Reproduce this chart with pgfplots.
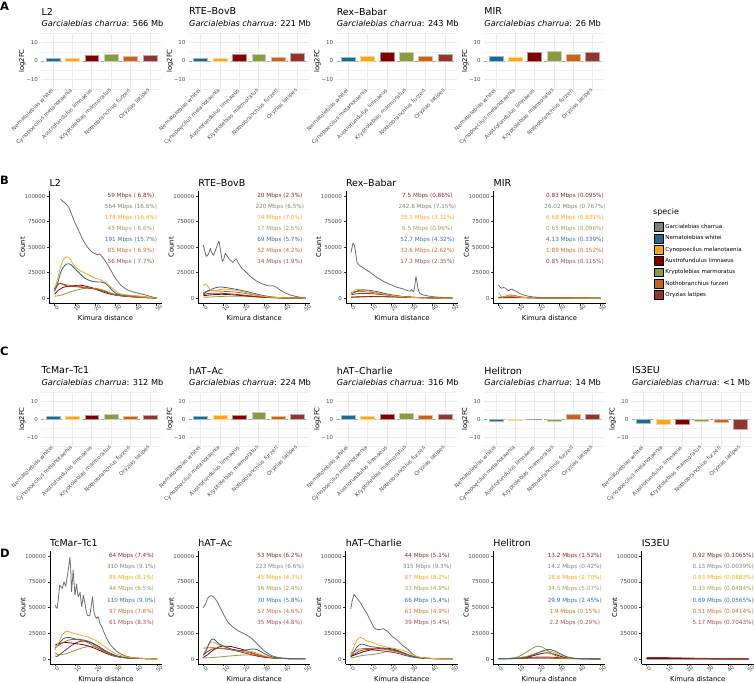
\documentclass[border=0pt]{standalone}
\usepackage{fontspec}
\setmainfont{DejaVu Sans}
\usepackage{pgfplots}
\pgfplotsset{compat=1.18}
\definecolor{gcol}{HTML}{6E6E6E}
\definecolor{gkey}{HTML}{808080}
\definecolor{ncol}{HTML}{1F6890}
\definecolor{ccol}{HTML}{FFA514}
\definecolor{acol}{HTML}{800000}
\definecolor{kcol}{HTML}{8A9A45}
\definecolor{fcol}{HTML}{C6631F}
\definecolor{ocol}{HTML}{8F3631}
\definecolor{tickgray}{HTML}{4D4D4D}
\definecolor{gridgray}{HTML}{EBEBEB}
\newcommand{\ftitle}{\fontsize{9.5}{11}\selectfont}
\newcommand{\fsub}{\fontsize{8.2}{9.5}\selectfont}
\newcommand{\ftick}{\fontsize{5.5}{6.5}\selectfont}
\newcommand{\fspec}{\fontsize{5.5}{6.5}\selectfont}
\newcommand{\fann}{\fontsize{5.7}{6.7}\selectfont}
\newcommand{\faxlab}{\fontsize{6.8}{8}\selectfont}
\newcommand{\fleg}{\fontsize{5.5}{6.5}\selectfont}
\newcommand{\fletter}{\fontsize{11.5}{13}\selectfont\bfseries}
\pgfplotsset{
 barax/.style={scale only axis, width=120pt, clip=false,
   xmin=0.4,xmax=6.6,ymin=-15,ymax=15,
   axis line style={draw=none}, major tick length=0pt, minor tick length=0pt,
   xtick={1,2,3,4,5,6},
   xticklabels={Nematolebias whitei,Cynopoecilus melanotaenia,Austrofundulus limnaeus,Kryptolebias marmoratus,Nothobranchius furzeri,Oryzias latipes},
   xticklabel style={rotate=45, anchor=east, font=\fspec, text=tickgray, inner sep=1pt},
   ytick={-10,0,10}, yticklabels={−10,0,10},
   minor ytick={-15,-5,5,15},
   yticklabel style={font=\ftick, text=tickgray},
   xmajorgrids, ymajorgrids, yminorgrids,
   major grid style={gridgray, line width=0.5pt},
   minor grid style={gridgray!70!white, line width=0.3pt},
   extra y ticks={0}, extra y tick labels={},
   extra y tick style={major grid style={gray!70, dashed, line width=0.45pt}},
   ylabel={log2FC},
   every axis y label/.style={at={(axis description cs:-0.159,0.5)}, rotate=90, anchor=center, font=\faxlab},
 },
 lineax/.style={scale only axis, width=112.2pt, clip=false,
   xmin=-2.5,xmax=52.5,ymin=-5000,ymax=105000,
   axis x line*=bottom, axis y line*=left, axis line style={-, black, line width=0.5pt},
   xtick={0,10,20,30,40,50}, xticklabels={0,10,20,30,40,50},
   ytick={0,25000,50000,75000,100000}, yticklabels={0,25000,50000,75000,100000},
   tick align=outside, major tick length=2.2pt, tick style={black!80, line width=0.5pt},
   xticklabel style={rotate=45, anchor=north, font=\ftick, text=tickgray, inner sep=1pt},
   yticklabel style={font=\ftick, text=tickgray, inner sep=1.5pt},
   scaled ticks=false,
   xlabel={Kimura distance}, ylabel={Count},
   every axis x label/.style={at={(axis description cs:0.5,0)}, anchor=center, yshift=-14.5pt, font=\faxlab},
   every axis y label/.style={at={(axis description cs:-0.241,0.5)}, rotate=90, anchor=center, font=\faxlab},
   every axis plot/.append style={line width=0.8pt, mark=none, line join=round},
 },
}
\newcommand{\sixbars}[6]{%
 \addplot[ybar, bar width=0.72, bar shift=0pt, fill=ncol, draw=ncol!45!white] coordinates {(1,#1)};
 \addplot[ybar, bar width=0.72, bar shift=0pt, fill=ccol, draw=ccol!45!white] coordinates {(2,#2)};
 \addplot[ybar, bar width=0.72, bar shift=0pt, fill=acol, draw=acol!45!white] coordinates {(3,#3)};
 \addplot[ybar, bar width=0.72, bar shift=0pt, fill=kcol, draw=kcol!45!white] coordinates {(4,#4)};
 \addplot[ybar, bar width=0.72, bar shift=0pt, fill=fcol, draw=fcol!45!white] coordinates {(5,#5)};
 \addplot[ybar, bar width=0.72, bar shift=0pt, fill=ocol, draw=ocol!45!white] coordinates {(6,#6)};
}
\newcommand{\bartitle}[2]{%
 \node[anchor=west, font=\ftitle, inner sep=0pt, yshift=21.5pt] at (axis description cs:0,1) {#1};
 \node[anchor=west, font=\fsub, inner sep=0pt, yshift=10pt] at (axis description cs:0,1) {\textit{Garcialebias charrua}: #2};
}
\newcommand{\linetitle}[1]{%
 \node[anchor=west, font=\ftitle, inner sep=0pt, yshift=8pt] at (axis description cs:0,1) {#1};
}
\newcommand{\annot}[7]{%
 \node[font=\fann, text=acol!85!white] at (axis cs:37.5,100000) {#1};
 \node[font=\fann, text=gcol!85!white] at (axis cs:37.5,89200) {#2};
 \node[font=\fann, text=ccol] at (axis cs:37.5,78400) {#3};
 \node[font=\fann, text=kcol!90!white] at (axis cs:37.5,67600) {#4};
 \node[font=\fann, text=ncol!90!white] at (axis cs:37.5,56800) {#5};
 \node[font=\fann, text=fcol!90!white] at (axis cs:37.5,46000) {#6};
 \node[font=\fann, text=ocol!85!white] at (axis cs:37.5,35200) {#7};
}
\begin{document}
\begin{tikzpicture}
\path[use as bounding box] (0pt,0pt) rectangle (754pt,682pt);
\node[font=\fletter, anchor=west, inner sep=0pt] at (0pt,676pt) {A};
\node[font=\fletter, anchor=west, inner sep=0pt] at (0pt,501.5pt) {B};
\node[font=\fletter, anchor=west, inner sep=0pt] at (0pt,331pt) {C};
\node[font=\fletter, anchor=west, inner sep=0pt] at (0pt,129pt) {D};

% ---------------- Panel A ----------------
\begin{axis}[barax, height=56pt, at={(41.4pt,593pt)}, anchor=south west]
\bartitle{L2}{566 Mb}
\sixbars{1.6}{1.7}{3.2}{3.6}{2.6}{3.2}
\end{axis}
\begin{axis}[barax, height=56pt, at={(189pt,593pt)}, anchor=south west]
\bartitle{RTE–BovB}{221 Mb}
\sixbars{1.5}{1.3}{3.5}{3.6}{2.0}{4.0}
\end{axis}
\begin{axis}[barax, height=56pt, at={(336.6pt,593pt)}, anchor=south west]
\bartitle{Rex–Babar}{243 Mb}
\sixbars{2.2}{2.5}{4.8}{4.9}{2.7}{3.5}
\end{axis}
\begin{axis}[barax, height=56pt, at={(484.2pt,593pt)}, anchor=south west]
\bartitle{MIR}{26 Mb}
\sixbars{2.5}{1.8}{4.8}{5.2}{3.7}{4.6}
\end{axis}

% ---------------- Panel C ----------------
\begin{axis}[barax, height=54pt, at={(41.4pt,236pt)}, anchor=south west]
\bartitle{TcMar–Tc1}{312 Mb}
\sixbars{1.4}{1.7}{2.3}{2.9}{1.6}{2.3}
\end{axis}
\begin{axis}[barax, height=54pt, at={(189pt,236pt)}, anchor=south west]
\bartitle{hAT–Ac}{224 Mb}
\sixbars{1.5}{2.1}{1.9}{3.7}{1.8}{2.6}
\end{axis}
\begin{axis}[barax, height=54pt, at={(336.6pt,236pt)}, anchor=south west]
\bartitle{hAT–Charlie}{316 Mb}
\sixbars{2.2}{1.7}{2.9}{3.3}{2.3}{2.9}
\end{axis}
\begin{axis}[barax, height=54pt, at={(484.2pt,236pt)}, anchor=south west]
\bartitle{Helitron}{14 Mb}
\sixbars{-1.0}{-0.9}{-0.2}{-1.2}{2.9}{2.7}
\end{axis}
\begin{axis}[barax, height=54pt, at={(631.8pt,236pt)}, anchor=south west]
\bartitle{IS3EU}{<1 Mb}
\sixbars{-2.4}{-2.8}{-2.8}{-1.4}{-1.9}{-5.4}
\end{axis}

% ---------------- Panel B ----------------
\begin{axis}[lineax, height=112.5pt, at={(49.4pt,378.6pt)}, anchor=south west]
\linetitle{L2}
\addplot[gcol] coordinates {(3,97000)(4,95000)(5,93500)(6,91500)(7,89000)(8,84000)(9,79000)(10,74000)(11,70000)(12,65500)(13,61000)(14,57000)(15,53500)(16,50500)(17,48000)(18,46000)(19,44500)(20,43500)(21,42500)(22,43500)(23,41500)(24,39000)(25,36000)(26,33000)(27,29500)(28,26000)(29,22500)(30,19000)(31,16500)(32,14000)(33,12000)(34,10500)(35,9000)(36,8000)(38,6500)(40,5500)(42,4500)(44,3500)(46,2500)(48,1200)(50,400)};
\addplot[kcol] coordinates {(0,2000)(2,2500)(4,3500)(6,5000)(8,6500)(10,7500)(12,8500)(14,9500)(16,10000)(18,10000)(20,9800)(22,9000)(24,7800)(26,6300)(28,4800)(30,3500)(33,2300)(36,1600)(40,1100)(45,600)(50,200)};
\addplot[acol] coordinates {(0,4000)(2,8000)(4,10500)(6,11500)(8,12000)(10,12500)(12,12800)(14,12500)(16,11500)(18,10500)(20,9000)(22,7500)(24,6000)(26,4800)(28,3800)(30,3000)(33,2300)(36,1800)(40,1300)(45,700)(50,200)};
\addplot[ocol] coordinates {(0,7000)(1,11000)(2,14000)(3,14500)(4,13500)(6,12000)(8,11500)(10,11500)(12,11000)(14,10500)(16,10000)(18,9500)(20,9000)(22,8000)(24,7000)(26,5500)(28,4200)(30,3200)(33,2400)(36,1800)(40,1300)(45,700)(50,200)};
\addplot[fcol] coordinates {(0,9000)(1,12000)(2,14500)(3,15000)(4,14000)(6,13000)(8,12500)(10,12000)(12,11500)(14,11000)(16,10500)(18,10000)(20,9500)(22,8500)(24,7500)(26,6000)(28,4500)(30,3300)(33,2500)(36,1900)(40,1300)(45,700)(50,200)};
\addplot[ncol] coordinates {(0,9000)(1,12000)(2,18000)(3,25000)(4,29500)(5,32000)(6,33500)(7,33800)(8,33000)(9,31000)(10,29000)(11,27000)(12,25000)(13,23000)(14,21000)(15,19500)(16,18500)(17,17500)(18,17000)(19,16500)(20,16200)(21,16000)(22,16000)(23,15800)(24,15200)(25,14500)(26,13000)(27,11000)(28,8500)(29,6500)(30,5000)(31,4000)(33,3200)(36,2800)(40,2300)(44,1500)(47,800)(50,200)};
\addplot[ccol] coordinates {(0,10000)(1,15000)(2,23000)(3,31000)(4,36500)(5,39500)(6,40500)(7,40000)(8,37500)(9,33500)(10,31000)(11,29500)(12,28000)(13,26500)(14,25500)(15,24500)(16,23500)(17,22500)(18,21500)(19,20500)(20,19500)(21,19000)(22,18500)(23,17500)(24,16500)(25,15500)(26,14000)(27,12000)(28,10500)(29,9000)(30,7000)(31,5500)(32,4500)(34,3700)(36,3200)(38,2800)(40,2300)(44,1500)(47,800)(50,200)};
\annot{59 Mbps ( 6.8\%)}{564 Mbps (16.6\%)}{174 Mbps (16.4\%)}{45 Mbps ( 6.6\%)}{191 Mbps (15.7\%)}{85 Mbps ( 6.9\%)}{56 Mbps ( 7.7\%)}
\end{axis}

\begin{axis}[lineax, height=112.5pt, at={(198.2pt,378.6pt)}, anchor=south west]
\linetitle{RTE–BovB}
\addplot[gcol] coordinates {(0,52000)(1,44000)(1.5,41000)(2.5,43000)(3.5,49000)(4,45000)(5,42000)(6,47000)(7,53000)(7.7,56000)(8.5,46000)(9.3,36000)(10,38000)(10.8,44000)(11.5,42000)(12.5,39000)(13.5,37000)(14.5,35000)(15.5,37500)(16.3,38500)(17,35000)(18,32000)(19,29000)(20,27500)(21,25500)(22,23500)(23,21500)(24,20000)(25,18500)(26,17000)(27,16000)(28,15000)(29,14000)(30,13500)(31,12800)(32,12200)(33,12000)(34,12300)(35,11500)(36,10500)(37,9000)(38,7800)(39,6500)(40,5500)(41,4500)(43,3000)(45,2000)(47,1200)(50,400)};
\addplot[kcol] coordinates {(0,1000)(4,1300)(8,1700)(12,2000)(16,2100)(20,2000)(24,1600)(28,1100)(32,700)(37,400)(45,200)(50,100)};
\addplot[acol] coordinates {(0,2500)(3,3200)(6,3700)(9,3900)(12,3700)(15,3300)(18,2800)(21,2300)(24,1800)(27,1300)(30,900)(35,500)(40,300)(50,100)};
\addplot[ocol] coordinates {(0,3500)(2,4500)(4,5000)(6,5000)(9,4800)(12,4500)(15,4000)(18,3500)(21,2800)(24,2200)(27,1600)(30,1100)(35,600)(40,300)(50,100)};
\addplot[fcol] coordinates {(0,5500)(2,7000)(4,7500)(6,7300)(8,7000)(10,6800)(12,6600)(14,6300)(16,6000)(18,5500)(20,5000)(22,4300)(24,3600)(26,2900)(28,2200)(30,1600)(33,1000)(36,600)(40,400)(45,200)(50,100)};
\addplot[ncol] coordinates {(0,4000)(1,5500)(2,7000)(3,8000)(4,8800)(5,9600)(6,10300)(7,10800)(8,11000)(9,11000)(10,10800)(12,10200)(14,9500)(16,8800)(18,8000)(20,7200)(22,6300)(24,5300)(26,4300)(28,3300)(30,2500)(33,1500)(36,900)(40,500)(45,300)(50,100)};
\addplot[ccol] coordinates {(0,12500)(1,14000)(2,12500)(3,9500)(4,7500)(5,7000)(6,7500)(8,8500)(10,9000)(12,8800)(14,8300)(16,7800)(18,7000)(20,6000)(22,5000)(24,4200)(26,3300)(28,2500)(30,1800)(33,1200)(36,800)(40,500)(45,300)(50,100)};
\annot{20 Mbps (2.3\%)}{220 Mbps (6.5\%)}{74 Mbps (7.0\%)}{17 Mbps (2.5\%)}{69 Mbps (5.7\%)}{52 Mbps (4.2\%)}{14 Mbps (1.9\%)}
\end{axis}

\begin{axis}[lineax, height=112.5pt, at={(345.8pt,378.6pt)}, anchor=south west]
\linetitle{Rex–Babar}
\addplot[gcol] coordinates {(0,44500)(0.5,49000)(1,53800)(1.5,53000)(2,49000)(2.5,42000)(3,35000)(4,32500)(5,31000)(6,30000)(7,28500)(8,27000)(9,26000)(10,24500)(11,23000)(12,21500)(13,20000)(14,19000)(15,17800)(16,16500)(17,15500)(18,14700)(19,13800)(20,13000)(21,12000)(22,11200)(23,10500)(24,10000)(25,9500)(26,8800)(27,8000)(28,7300)(29,7000)(29.8,8500)(30.5,6500)(31,8000)(31.5,15000)(31.9,21500)(32.3,17000)(32.8,10000)(33.5,6000)(34,4500)(35,3500)(36,3000)(38,2200)(40,1600)(42,1200)(45,800)(48,500)(50,300)};
\addplot[kcol] coordinates {(0,800)(5,1200)(10,1700)(15,2000)(20,1900)(25,1500)(30,1000)(35,600)(42,300)(50,100)};
\addplot[acol] coordinates {(0,1200)(5,1500)(10,1600)(15,1500)(20,1300)(25,1000)(30,700)(35,500)(42,300)(50,100)};
\addplot[ocol] coordinates {(0,3500)(3,4500)(6,4800)(9,4600)(12,4200)(15,3700)(18,3100)(21,2500)(24,1900)(28,1300)(32,800)(38,400)(50,100)};
\addplot[fcol] coordinates {(0,5500)(2,6500)(4,6800)(6,6600)(8,6200)(10,5800)(12,5300)(14,4700)(16,4000)(18,3400)(20,2800)(23,2100)(26,1500)(30,1000)(35,600)(42,300)(50,100)};
\addplot[ncol] coordinates {(0,4000)(1,5000)(2,6000)(3,7000)(4,7800)(5,8200)(6,8300)(7,8200)(8,8000)(10,7500)(12,6800)(14,6000)(16,5000)(18,4200)(20,3400)(22,2700)(25,1900)(28,1300)(32,800)(36,500)(42,300)(50,100)};
\addplot[ccol] coordinates {(0,3500)(1,6000)(2,8000)(3,8800)(4,8500)(5,7800)(6,7500)(8,7200)(10,6800)(12,6000)(14,5000)(16,4200)(18,3500)(20,2800)(22,2200)(25,1600)(28,1100)(32,700)(36,400)(42,200)(50,100)};
\annot{7.5 Mbps (0.86\%)}{242.8 Mbps (7.15\%)}{35.1 Mbps (3.31\%)}{6.5 Mbps (0.96\%)}{52.7 Mbps (4.32\%)}{32.6 Mbps (2.62\%)}{17.3 Mbps (2.35\%)}
\end{axis}

\begin{axis}[lineax, height=112.5pt, at={(493.4pt,378.6pt)}, anchor=south west,
  legend style={at={(axis description cs:1.431,0.721)}, anchor=north west, draw=none, fill=none, inner sep=0pt, row sep=1.7pt, font=\fleg, cells={anchor=west}, nodes={inner sep=1.2pt}},
  legend image code/.code={\fill[#1] (0pt,-4.4pt) rectangle (9.3pt,4.4pt);}]
\addlegendimage{fill=gkey}\addlegendentry{Garcialebias charrua}
\addlegendimage{fill=ncol}\addlegendentry{Nematolebias whitei}
\addlegendimage{fill=ccol}\addlegendentry{Cynopoecilus melanotaenia}
\addlegendimage{fill=acol}\addlegendentry{Austrofundulus limnaeus}
\addlegendimage{fill=kcol}\addlegendentry{Kryptolebias marmoratus}
\addlegendimage{fill=fcol}\addlegendentry{Nothobranchius furzeri}
\addlegendimage{fill=ocol}\addlegendentry{Oryzias latipes}
\linetitle{MIR}
\node[anchor=west, font=\fontsize{8}{9}\selectfont, inner sep=0pt] at (axis description cs:1.4225,0.806) {specie};
\addplot[gcol] coordinates {(0,13000)(0.7,11000)(1.5,9800)(2.3,10500)(3.2,10200)(4,8500)(4.9,7500)(5.7,8500)(6.5,9000)(7.3,8000)(8.2,7200)(9,6500)(9.8,5500)(11,4200)(12.3,3200)(14,2300)(15.5,1700)(17,1300)(19,1000)(22,800)(26,600)(30,500)(35,400)(40,300)(45,250)(50,200)};
\addplot[kcol] coordinates {(0,300)(6,500)(12,600)(20,500)(30,300)(40,200)(50,100)};
\addplot[acol] coordinates {(0,700)(4,900)(8,900)(12,700)(16,500)(22,300)(30,200)(50,100)};
\addplot[ocol] coordinates {(0,800)(4,1100)(8,1100)(12,800)(16,500)(22,300)(30,200)(50,100)};
\addplot[fcol] coordinates {(0,1000)(3,1500)(6,1600)(9,1300)(12,900)(16,500)(22,300)(30,200)(50,100)};
\addplot[ncol] coordinates {(0,500)(2,1200)(4,2300)(5,2900)(6,3200)(7,3000)(8,2500)(10,1600)(12,1000)(15,600)(20,300)(30,200)(50,100)};
\addplot[ccol] coordinates {(0,5500)(0.5,4500)(1,3000)(1.5,1500)(2,1000)(3,1500)(4,2200)(5,2700)(6,2800)(7,2500)(8,2000)(10,1300)(12,800)(15,500)(20,300)(30,200)(50,100)};
\annot{0.83 Mbps (0.095\%)}{26.02 Mbps (0.767\%)}{6.68 Mbps (0.631\%)}{0.65 Mbps (0.096\%)}{4.13 Mbps (0.339\%)}{1.89 Mbps (0.152\%)}{0.85 Mbps (0.115\%)}
\end{axis}

% ---------------- Panel D ----------------
\begin{axis}[lineax, height=113.3pt, at={(49.9pt,17.8pt)}, anchor=south west]
\linetitle{TcMar–Tc1}
\addplot[gcol] coordinates {(0,52400)(0.6,50000)(1.1,49200)(1.7,60000)(2.3,71800)(3,70000)(3.6,68600)(4.4,75000)(5.2,70500)(6,80000)(6.6,88000)(7.3,98700)(7.7,88000)(8.1,65300)(8.5,75000)(8.9,86400)(9.3,75000)(9.8,62100)(10.2,68000)(10.6,72800)(11,65000)(11.4,60500)(12,63000)(12.3,65000)(12.7,57000)(13.1,50800)(13.5,56000)(13.9,62000)(14.3,58000)(14.7,54000)(15.2,47600)(15.8,42700)(16.5,42000)(17.1,42700)(17.8,52000)(18.4,60500)(18.8,52000)(19.2,45000)(19.8,41000)(20.4,39500)(21.2,41000)(22,34700)(23,31000)(24,26000)(25,21500)(26,17500)(27,14500)(28,12000)(29,9800)(30,8000)(31,6500)(32,5200)(33,4200)(34,3300)(36,2200)(38,1400)(40,1000)(43,600)(46,400)(50,300)};
\addplot[kcol] coordinates {(0,6000)(1,4500)(2,4000)(4,4500)(6,5500)(8,7000)(10,8500)(12,10000)(14,11200)(16,12000)(18,12200)(20,11500)(22,10000)(24,8000)(26,6000)(28,4200)(30,2800)(33,1600)(36,900)(40,500)(45,300)(50,200)};
\addplot[ocol] coordinates {(0,3000)(1,2500)(2,4000)(4,7000)(6,10000)(8,13000)(10,15500)(12,17000)(14,17500)(16,17000)(18,15500)(20,13500)(22,11000)(24,8500)(26,6200)(28,4300)(30,2900)(33,1700)(36,1000)(40,600)(45,400)(50,200)};
\addplot[acol] coordinates {(0,13500)(2,15000)(4,16000)(6,16000)(8,15500)(10,15000)(12,14500)(14,13800)(16,12800)(18,11500)(20,10000)(22,8200)(24,6400)(26,4800)(28,3400)(30,2400)(33,1500)(36,1000)(40,600)(45,400)(50,200)};
\addplot[fcol] coordinates {(0,11000)(2,13500)(4,16000)(6,18000)(8,19000)(10,19000)(12,18500)(14,17500)(16,16000)(18,14000)(20,12000)(22,9500)(24,7200)(26,5200)(28,3600)(30,2500)(33,1500)(36,900)(40,600)(45,400)(50,200)};
\addplot[ncol] coordinates {(0,10000)(1,13000)(2,15500)(3,17500)(4,19500)(5,20500)(6,21000)(7,21000)(8,20500)(10,19500)(12,19000)(14,18500)(16,17500)(18,16000)(20,14000)(22,11500)(24,9000)(26,6700)(28,4800)(30,3300)(32,2300)(34,1600)(37,1000)(40,700)(45,400)(50,200)};
\addplot[ccol] coordinates {(0,9000)(1,13000)(2,17000)(3,21500)(4,24500)(5,26500)(6,27000)(7,26500)(8,25500)(10,24500)(12,23500)(14,22500)(16,21500)(18,20000)(20,18000)(22,15500)(24,12500)(26,9500)(28,7000)(30,5000)(32,3500)(34,2500)(37,1500)(40,1000)(45,500)(50,200)};
\annot{64 Mbps (7.4\%)}{310 Mbps (9.1\%)}{85 Mbps (8.1\%)}{44 Mbps (6.5\%)}{110 Mbps (9.0\%)}{97 Mbps (7.8\%)}{61 Mbps (8.3\%)}
\end{axis}

\begin{axis}[lineax, height=113.3pt, at={(198.2pt,17.8pt)}, anchor=south west]
\linetitle{hAT–Ac}
\addplot[gcol] coordinates {(0,49800)(1,53000)(2,58500)(3,61000)(4,61500)(5,60500)(6,58000)(7,55000)(8,51000)(9,47000)(10,43000)(11,39500)(12,36000)(13,34000)(14,32000)(15,30500)(16,29000)(17,27500)(18,26500)(19,25500)(20,24500)(21,23500)(22,22500)(23,21000)(24,19500)(25,17500)(26,15500)(27,13500)(28,11500)(29,9500)(30,7800)(31,6500)(32,5200)(33,4000)(34,3000)(36,1800)(38,1000)(40,700)(44,400)(50,300)};
\addplot[kcol] coordinates {(0,1000)(3,1300)(6,1700)(9,2200)(12,2800)(15,3300)(18,3800)(21,4000)(24,3800)(27,3200)(30,2300)(33,1500)(36,900)(40,500)(45,300)(50,200)};
\addplot[ocol] coordinates {(0,4500)(2,7000)(4,9500)(6,10500)(8,10500)(10,10000)(12,9500)(14,8800)(16,8000)(18,7000)(20,6000)(22,5000)(24,4000)(26,3000)(28,2200)(30,1600)(33,1000)(36,600)(40,400)(50,200)};
\addplot[acol] coordinates {(0,1500)(2,4000)(4,7500)(6,10000)(8,12000)(10,12500)(12,12500)(14,12000)(16,11000)(18,10000)(20,8800)(22,7500)(24,6000)(26,4600)(28,3400)(30,2400)(33,1400)(36,900)(40,500)(45,300)(50,200)};
\addplot[fcol] coordinates {(0,10500)(2,11000)(4,11000)(6,10800)(8,10500)(10,10200)(12,9800)(14,9300)(16,8700)(18,8000)(20,7200)(22,6300)(24,5300)(26,4300)(28,3300)(30,2500)(33,1500)(36,900)(40,500)(45,300)(50,200)};
\addplot[ccol] coordinates {(0,5500)(1,8000)(2,12000)(3,15000)(4,16500)(5,16500)(6,15500)(7,14500)(8,13500)(10,12000)(12,10500)(14,9500)(16,8800)(18,8200)(20,7800)(22,7500)(24,7000)(26,6000)(28,4500)(30,3200)(32,2200)(35,1300)(38,800)(42,500)(50,200)};
\addplot[ncol] coordinates {(0,3500)(1,6000)(2,11000)(3,16000)(4,19000)(5,19500)(6,18000)(7,16000)(8,14500)(10,12500)(12,11000)(14,9500)(16,8700)(18,8300)(20,8500)(22,9200)(24,9800)(25,9800)(26,9300)(28,7500)(30,5200)(32,3300)(34,2000)(37,1000)(40,600)(45,300)(50,200)};
\annot{53 Mbps (6.2\%)}{223 Mbps (6.6\%)}{45 Mbps (4.3\%)}{16 Mbps (2.4\%)}{70 Mbps (5.8\%)}{57 Mbps (4.6\%)}{35 Mbps (4.8\%)}
\end{axis}

\begin{axis}[lineax, height=113.3pt, at={(345.6pt,17.8pt)}, anchor=south west]
\linetitle{hAT–Charlie}
\addplot[gcol] coordinates {(0,48500)(0.7,56000)(1.6,62800)(2.5,60500)(3.8,57300)(5,54000)(6,50500)(7,47000)(8,44000)(9,40000)(10,36000)(11,32000)(12,29500)(13,28800)(14,28500)(15,29000)(16,29500)(17,28000)(18,27000)(19,25000)(20,22500)(21,21000)(22,19500)(23,18000)(24,16000)(25,14000)(26,12500)(27,11000)(28,9500)(29,7500)(30,5500)(31,4000)(32,2800)(33,2000)(35,1200)(38,700)(42,400)(50,300)};
\addplot[kcol] coordinates {(0,1000)(2,1800)(4,2800)(6,3500)(8,4000)(10,4300)(12,4800)(14,5500)(16,6500)(18,7500)(20,8000)(22,7800)(24,7000)(26,5500)(28,4000)(30,2600)(33,1400)(36,800)(40,400)(50,200)};
\addplot[ocol] coordinates {(0,2500)(2,5000)(4,7500)(6,8800)(8,9200)(10,9000)(12,8600)(14,8200)(16,7800)(18,7300)(20,6700)(22,6000)(24,5000)(26,3900)(28,2900)(30,2000)(33,1200)(36,700)(40,400)(50,200)};
\addplot[acol] coordinates {(0,2500)(2,4000)(4,5500)(6,7000)(8,8000)(10,9000)(12,9800)(14,10300)(16,10600)(18,10500)(20,10000)(22,9000)(24,7500)(26,5800)(28,4200)(30,2800)(33,1600)(36,900)(40,500)(45,300)(50,200)};
\addplot[fcol] coordinates {(0,5000)(2,7500)(4,9500)(6,10200)(8,10300)(10,10200)(12,10000)(14,9800)(16,9500)(18,9000)(20,8300)(22,7400)(24,6300)(26,5000)(28,3700)(30,2600)(33,1500)(36,900)(40,500)(45,300)(50,200)};
\addplot[ncol] coordinates {(0,3000)(1,5000)(2,8500)(3,11500)(4,13500)(5,14300)(6,14300)(7,13800)(8,13000)(10,12000)(12,11500)(14,11000)(16,10500)(18,9800)(20,9000)(22,8200)(24,7200)(26,5800)(28,4300)(30,2900)(32,1800)(35,1000)(38,600)(42,400)(50,200)};
\addplot[ccol] coordinates {(0,5000)(1,9000)(2,14000)(3,18000)(4,20500)(5,21000)(6,20000)(7,18500)(8,17500)(10,16500)(12,15000)(14,13500)(16,12500)(18,11500)(20,10700)(22,10000)(24,9300)(26,8300)(28,6500)(30,4500)(32,2800)(34,1700)(37,900)(40,600)(45,300)(50,200)};
\annot{44 Mbps (5.1\%)}{315 Mbps (9.3\%)}{87 Mbps (8.2\%)}{33 Mbps (4.9\%)}{66 Mbps (5.4\%)}{61 Mbps (4.9\%)}{39 Mbps (5.4\%)}
\end{axis}

\begin{axis}[lineax, height=113.3pt, at={(493.2pt,17.8pt)}, anchor=south west]
\linetitle{Helitron}
\addplot[gcol] coordinates {(0,500)(5,600)(10,800)(15,1000)(20,1200)(25,1100)(30,900)(35,700)(40,500)(45,400)(50,300)};
\addplot[fcol] coordinates {(0,200)(5,300)(10,500)(15,700)(20,800)(25,700)(30,500)(40,200)(50,100)};
\addplot[ocol] coordinates {(0,300)(5,500)(10,900)(15,1500)(20,2000)(25,1900)(30,1400)(35,800)(40,400)(50,100)};
\addplot[acol] coordinates {(0,200)(5,300)(10,800)(14,1800)(17,3200)(20,4800)(22,5700)(24,6000)(26,5500)(28,4400)(30,3000)(32,1800)(35,800)(40,300)(50,100)};
\addplot[ccol] coordinates {(0,300)(5,500)(10,1200)(14,2800)(17,4700)(20,6500)(22,7500)(24,7800)(26,7300)(28,6000)(30,4300)(32,2800)(34,1600)(37,700)(42,300)(50,100)};
\addplot[kcol] coordinates {(0,300)(4,500)(8,1200)(10,2500)(12,4500)(14,7000)(16,9500)(18,11800)(19.5,12600)(21,12000)(23,10000)(25,7000)(27,4500)(29,2500)(31,1300)(34,600)(38,300)(45,200)(50,100)};
\addplot[ncol] coordinates {(0,200)(5,300)(10,800)(14,2000)(17,4000)(20,6500)(22,8200)(24,9200)(25,9300)(26,9000)(28,7600)(30,5500)(32,3500)(34,2000)(36,1000)(40,400)(45,200)(48,150)(50,0)};
\annot{13.2 Mbps (1.52\%)}{14.2 Mbps (0.42\%)}{28.6 Mbps (2.70\%)}{34.5 Mbps (5.07\%)}{29.9 Mbps (2.45\%)}{1.9 Mbps (0.15\%)}{2.2 Mbps (0.29\%)}
\end{axis}

\begin{axis}[lineax, height=113.3pt, at={(641.6pt,17.8pt)}, anchor=south west]
\linetitle{IS3EU}
\addplot[gcol] coordinates {(0,100)(25,100)(50,50)};
\addplot[kcol] coordinates {(0,200)(10,200)(20,200)(30,100)(50,50)};
\addplot[fcol] coordinates {(0,300)(10,300)(20,300)(30,200)(50,100)};
\addplot[ncol] coordinates {(0,400)(10,400)(20,300)(30,200)(40,100)(50,50)};
\addplot[ccol] coordinates {(0,500)(10,500)(20,400)(30,300)(40,200)(50,100)};
\addplot[acol] coordinates {(0,600)(10,500)(20,400)(30,300)(40,200)(50,100)};
\addplot[ocol] coordinates {(0,1500)(5,1500)(10,1400)(15,1200)(20,1000)(25,800)(30,600)(35,400)(40,300)(50,100)};
\annot{0.92 Mbps (0.1065\%)}{0.13 Mbps (0.0039\%)}{0.93 Mbps (0.0883\%)}{0.33 Mbps (0.0484\%)}{0.69 Mbps (0.0565\%)}{0.51 Mbps (0.0414\%)}{5.17 Mbps (0.7043\%)}
\end{axis}
\end{tikzpicture}
\end{document}
